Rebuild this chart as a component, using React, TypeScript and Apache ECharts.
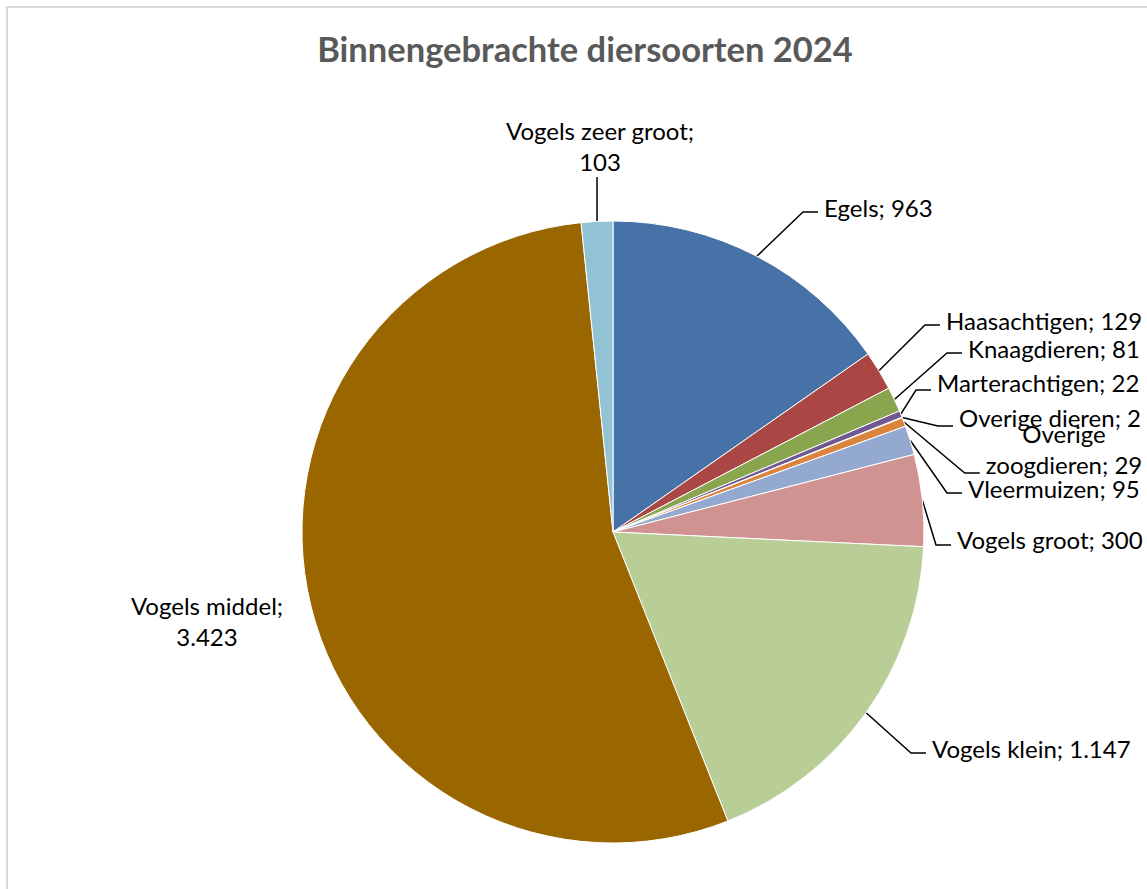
import React, { useEffect, useRef } from "react";
import * as echarts from "echarts";

const categories = [
  "Egels",
  "Haasachtigen",
  "Knaagdieren",
  "Marterachtigen",
  "Overige dieren",
  "Overige zoogdieren",
  "Vleermuizen",
  "Vogels groot",
  "Vogels klein",
  "Vogels middel",
  "Vogels zeer groot",
];
const values = [963, 129, 81, 22, 2, 29, 95, 300, 1147, 3423, 103];
const colors = [
  "#4672A7",
  "#AA4643",
  "#89A54E",
  "#71588F",
  "#4198AF",
  "#DB843D",
  "#93A9CF",
  "#D19392",
  "#B9CD96",
  "#996600",
  "#92C3D5",
];
const titleText = "Binnengebrachte diersoorten 2024";

// label placement (Excel-style), kept apart from the data
const labelX = [824, 946, 968, 937, 959, 1064, 968, 957, 932, 207, 600];
const labelY = [207, 320, 348, 382, 417, 449, 488, 539, 748, 621, 146];
const labelAlign = ["left", "left", "left", "left", "left", "center", "left", "left", "left", "center", "center"];
const lineDy = [5, 5, 5, 8, 9, 24, 5, 6, 5, 0, 0];

const fmt = (v: number) => String(v).replace(/\B(?=(\d{3})+(?!\d))/g, ".");

const labelText = (name: string, v: number) => {
  if (name === "Vogels zeer groot" || name === "Vogels middel") return `${name};\n${fmt(v)}`;
  if (name === "Overige zoogdieren") return `Overige\nzoogdieren; ${fmt(v)}`;
  return `${name}; ${fmt(v)}`;
};

export default function App() {
  const ref = useRef<HTMLDivElement>(null);
  useEffect(() => {
    if (!ref.current) return;
    const chart = echarts.init(ref.current, undefined, { renderer: "svg" });
    const data = categories.map((c, i) => ({
      name: c,
      value: values[i],
      itemStyle: { color: colors[i] },
    }));
    chart.setOption({
      animation: false,
      backgroundColor: "#ffffff",
      title: {
        text: titleText,
        left: 580,
        textAlign: "center",
        top: 26,
        textStyle: {
          fontFamily: "Lato",
          fontWeight: "bold",
          fontSize: 34.5,
          color: "#595959",
        },
      },
      graphic: [
        {
          type: "rect",
          shape: { x: 7, y: 7, width: 1300, height: 1000 },
          style: { fill: "none", stroke: "#d9d9d9", lineWidth: 2 },
          silent: true,
        },
      ],
      series: [
        {
          type: "pie",
          center: [613, 532],
          radius: 311,
          startAngle: 90,
          clockwise: true,
          avoidLabelOverlap: false,
          data,
          itemStyle: { borderColor: "#ffffff", borderWidth: 1 },
          label: {
            show: true,
            position: "outside",
            alignTo: "none",
            overflow: "none",
            formatter: (p: any) => labelText(p.name, p.value),
            fontFamily: "Lato",
            fontSize: 24,
            color: "#000000",
            lineHeight: 31,
          },
          labelLine: {
            show: true,
            length: 30,
            length2: 15,
            lineStyle: { color: "#000000", width: 1.5 },
          },
          labelLayout: (params: any) => {
            const i = params.dataIndex;
            const w = params.labelRect.width;
            const h = params.labelRect.height;
            const x = labelX[i];
            const y = labelY[i];
            const align = labelAlign[i];
            const pts = params.labelLinePoints;
            const p0 = pts ? pts[0] : [x, y];
            let linePts: number[][];
            if (categories[i] === "Vogels middel") {
              linePts = [p0, p0, p0];
            } else if (categories[i] === "Vogels zeer groot") {
              const top = y + h / 2;
              linePts = [p0, [p0[0], top], [p0[0], top]];
            } else {
              const left = align === "center" ? x - w / 2 : x;
              const p2 = [left - 6, y + lineDy[i]];
              const p1 = [p2[0] - 15, p2[1]];
              linePts = [p0, p1, p2];
            }
            return {
              x,
              y,
              align,
              verticalAlign: "middle",
              labelLinePoints: linePts,
            };
          },
        },
      ],
    });
    return () => chart.dispose();
  }, []);
  return (
    <div
      ref={ref}
      style={{ position: "absolute", left: 0, top: 0, width: 1147, height: 889 }}
    />
  );
}
